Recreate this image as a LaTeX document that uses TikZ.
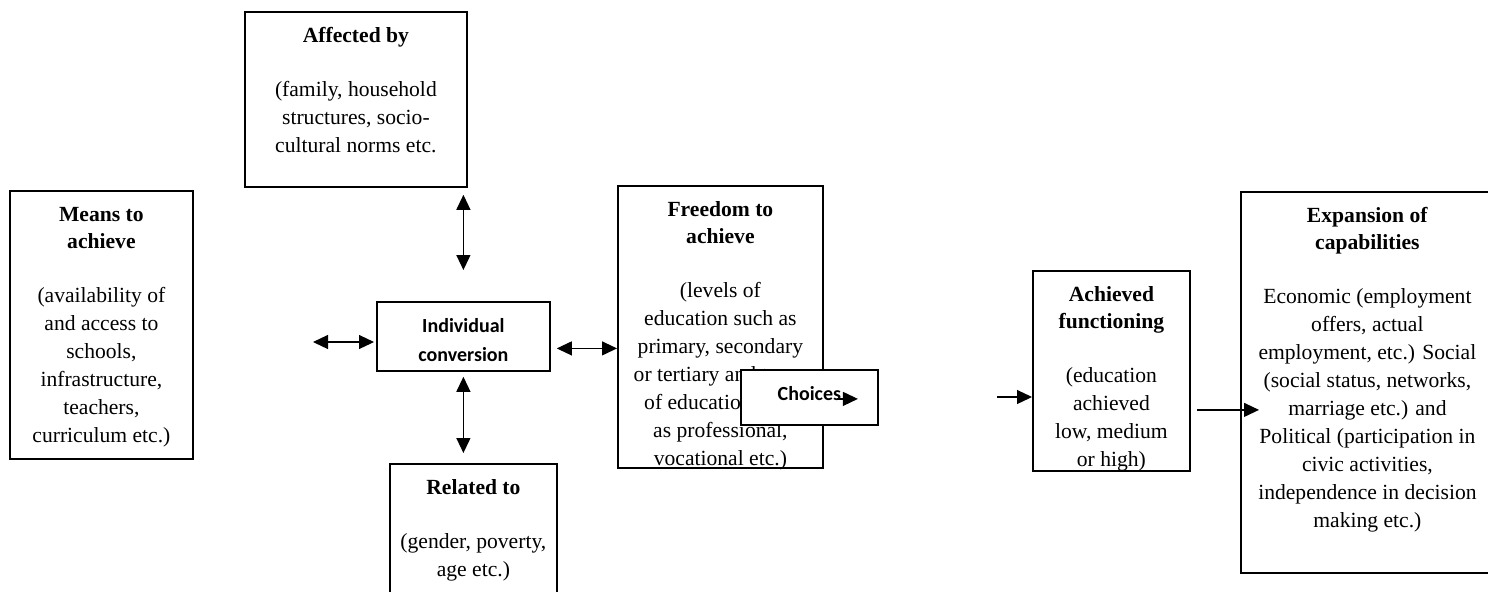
\documentclass[tikz,border=0pt]{standalone}
\usepackage{fontspec}
\setmainfont{Liberation Serif}
\newfontfamily\calfont{Carlito}
\usetikzlibrary{arrows.meta}
\newdimen\px \px=0.5pt
% box text: width, height (px), lines
\newcommand{\boxbody}[3]{\parbox[c][#2\px][t]{#1\px}{\centering\rule{0pt}{15.3pt}#3}}

\begin{document}
\begin{tikzpicture}[x=0.5pt,y=-0.5pt,
  box/.style={draw,line width=0.9pt,inner sep=0pt,anchor=north west,fill=white},
  body/.style={font=\fontsize{10.8}{14}\selectfont},
  calbox/.style={box,font=\calfont\bfseries\fontsize{10}{14.5}\selectfont},
  dbl/.style={{Triangle[length=7.5pt,width=7pt]}-{Triangle[length=7.5pt,width=7pt]},line width=0.6pt},
  arr/.style={-{Triangle[length=7.5pt,width=7pt]},line width=0.6pt}]
  \useasboundingbox (0,0) rectangle (1488,591);

  \node[box,body] (means) at (9,190) {\boxbody{183}{268}{\textbf{Means to}\\[-0.5pt]\textbf{achieve}\\[13pt]
    (availability of\\and access to\\schools,\\infrastructure,\\teachers,\\curriculum etc.)}};
  \node[box,body] (aff) at (244,11) {\boxbody{222}{175}{\textbf{Affected by}\\[13pt]
    (family, household\\structures, socio-\\cultural norms etc.}};
  \node[calbox] (ind) at (376,301) {\boxbody{173}{69}{Individual\\conversion}};
  \node[box,body] (rel) at (389,463) {\boxbody{167}{140}{\textbf{Related to}\\[13pt]
    (gender, poverty,\\age etc.)}};
  \node[box,body] (free) at (617,185) {\boxbody{205}{282}{\textbf{Freedom to}\\[-0.5pt]\textbf{achieve}\\[13pt]
    (levels of\\education such as\\primary, secondary\\or tertiary and types\\of education such\\as professional,\\vocational etc.)}};
  \node[calbox] (cho) at (740,369) {\boxbody{137}{55}{Choices}};
  \node[box,body] (ach) at (1032,270) {\boxbody{157}{200}{\textbf{Achieved}\\[-0.5pt]\textbf{functioning}\\[13pt]
    (education\\achieved\\low, medium\\or high)}};
  \node[box,body] (exp) at (1240,191) {\boxbody{253}{381}{\textbf{Expansion of}\\[-0.5pt]\textbf{capabilities}\\[13pt]
    Economic (employment\\offers, actual\\employment, etc.) Social\\(social status, networks,\\marriage etc.) and\\Political (participation in\\civic activities,\\independence in decision\\making etc.)}};

  \coordinate (lfree) at (313,342);
  \coordinate (achin) at (997,397);

  \draw[dbl,shorten <=3.5pt,shorten >=15.5pt] (aff.south -| ind.north) -- (ind.north);
  \draw[dbl,shorten <=2.5pt,shorten >=5pt] (ind.south) -- (ind.south |- rel.north);
  \draw[dbl,shorten >=1pt] (lfree) -- (lfree -| ind.west);
  \draw[dbl,shorten <=3pt] ([yshift=-6pt]ind.east) -- ([yshift=-6pt]ind.east -| free.west);
  \draw[arr] ([shift={(13.75pt,-0.75pt)}]cho.center) -- ([shift={(24.25pt,-0.75pt)}]cho.center);
  \draw[arr] (achin) -- (achin -| ach.west);
  \draw[arr,shorten <=3pt,shorten >=-9.5pt] ([yshift=-19.5pt]ach.east) -- ([yshift=-19.5pt]ach.east -| exp.west);
\end{tikzpicture}
\end{document}
